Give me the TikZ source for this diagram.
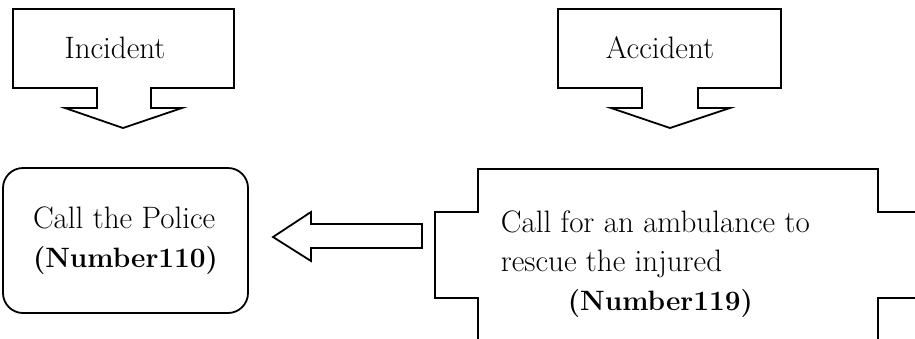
\documentclass[tikz,border=0pt]{standalone}
\usepackage{tikz}
\usetikzlibrary{positioning}
\newcommand{\numfont}{\bfseries\fontsize{28}{39}\selectfont}

\begin{document}
\begin{tikzpicture}[x=1pt,y=-1pt,line width=1.8pt,line join=miter,
  txt/.style={font=\fontsize{31}{39}\selectfont,inner sep=0pt},
  callbox/.style={draw,rounded corners=20pt,minimum width=245pt,minimum height=145pt}]
\clip (0,0) rectangle (915,338);

% down arrow callouts
\draw (13,9) -- (234,9) -- (234,88) -- (151,88) -- (151,108) -- (182,108)
  -- (123,128) -- (65,108) -- (97,108) -- (97,88) -- (13,88) -- cycle;
\node[txt] (incident) at (115,48) {Incident};

\draw (558,9) -- (781,9) -- (781,88) -- (698,88) -- (698,108) -- (730,108)
  -- (670,128) -- (611,108) -- (642,108) -- (642,88) -- (558,88) -- cycle;
\node[txt] (accident) at (660,48) {Accident};

% results
\node[callbox,txt,align=left] (police) at (125.5,240.5)
  {Call the Police\\{\numfont (Number110)}};

\draw (925,212) -- (878,212) -- (878,169) -- (478,169) -- (478,212) -- (435,212)
  -- (435,298) -- (478,298) -- (478,350);
\draw (878,350) -- (878,298) -- (925,298);
\node[txt,align=left,anchor=west] (ambulance) at (500,264)
  {Call for an ambulance to\\rescue the injured\\\hspace*{67pt}{\numfont (Number119)}};

% left block arrow
\draw (422,224) -- (311,224) -- (311,212) -- (273,237) -- (311,261)
  -- (311,248) -- (422,248) -- cycle;
\end{tikzpicture}
\end{document}
